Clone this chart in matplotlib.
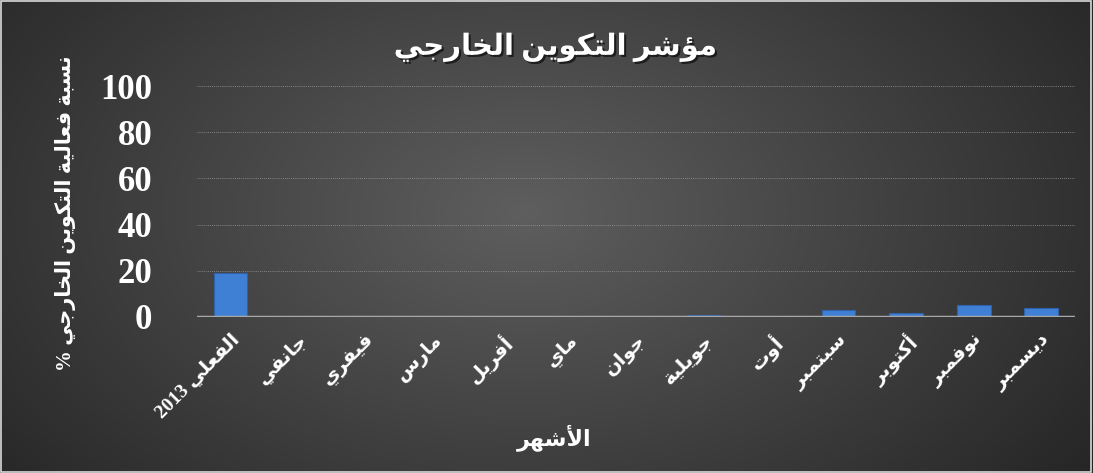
import numpy as np
import matplotlib
matplotlib.use("Agg")
import matplotlib.pyplot as plt
from matplotlib.patches import Rectangle
import matplotlib.patheffects as pe

categories = ["الفعلي 2013", "جانفي", "فيفري", "مارس", "أفريل", "ماي", "جوان",
              "جويلية", "أوت", "سبتمبر", "أكتوبر", "نوفمبر", "ديسمبر"]
values = [19, 0.6, 0, 0.6, 0.6, 0.6, 0.6, 0.9, 0.5, 3.0, 1.5, 5.3, 3.8]
yticks = [0, 20, 40, 60, 80, 100]
title = "مؤشر التكوين الخارجي"
ylabel = "نسبة فعالية التكوين الخارجي %"
xlabel = "الأشهر"

# matplotlib does no Arabic shaping, so map letters to presentation forms by hand
AR_FORMS = {
    'ء': (0xFE80, 1), 'آ': (0xFE81, 2), 'أ': (0xFE83, 2), 'ؤ': (0xFE85, 2),
    'إ': (0xFE87, 2), 'ئ': (0xFE89, 4), 'ا': (0xFE8D, 2), 'ب': (0xFE8F, 4),
    'ة': (0xFE93, 2), 'ت': (0xFE95, 4), 'ث': (0xFE99, 4), 'ج': (0xFE9D, 4),
    'ح': (0xFEA1, 4), 'خ': (0xFEA5, 4), 'د': (0xFEA9, 2), 'ذ': (0xFEAB, 2),
    'ر': (0xFEAD, 2), 'ز': (0xFEAF, 2), 'س': (0xFEB1, 4), 'ش': (0xFEB5, 4),
    'ص': (0xFEB9, 4), 'ض': (0xFEBD, 4), 'ط': (0xFEC1, 4), 'ظ': (0xFEC5, 4),
    'ع': (0xFEC9, 4), 'غ': (0xFECD, 4), 'ف': (0xFED1, 4), 'ق': (0xFED5, 4),
    'ك': (0xFED9, 4), 'ل': (0xFEDD, 4), 'م': (0xFEE1, 4), 'ن': (0xFEE5, 4),
    'ه': (0xFEE9, 4), 'و': (0xFEED, 2), 'ى': (0xFEEF, 2), 'ي': (0xFEF1, 4),
}
LAM_ALEF = {'آ': (0xFEF5, 2), 'أ': (0xFEF7, 2), 'إ': (0xFEF9, 2), 'ا': (0xFEFB, 2)}


def shape_word(word):
    units = []
    i = 0
    while i < len(word):
        if word[i] == 'ل' and i + 1 < len(word) and word[i + 1] in LAM_ALEF:
            units.append(LAM_ALEF[word[i + 1]])
            i += 2
        else:
            units.append(AR_FORMS.get(word[i], word[i]))
            i += 1
    out = []
    for k, u in enumerate(units):
        if not isinstance(u, tuple):
            out.append(u)
            continue
        base, n = u
        prev = units[k - 1] if k > 0 else None
        nxt = units[k + 1] if k + 1 < len(units) else None
        jp = isinstance(prev, tuple) and prev[1] == 4
        jn = n == 4 and isinstance(nxt, tuple)
        if n == 1:
            f = 0
        elif jp and jn:
            f = 3
        elif jn:
            f = 2
        elif jp:
            f = 1
        else:
            f = 0
        out.append(chr(base + f))
    return ''.join(reversed(out))


def ar(text):
    tokens = text.split(' ')
    return ' '.join(shape_word(t) if any(c in AR_FORMS for c in t) else t
                    for t in reversed(tokens))


FONT = ['Liberation Serif', 'DejaVu Sans']

fig = plt.figure(figsize=(10.93, 4.73), dpi=100)

# dark radial background
bg = fig.add_axes([0, 0, 1, 1], zorder=-10)
gx, gy = np.meshgrid(np.linspace(0, 1, 400), np.linspace(0, 1, 200))
d = np.sqrt(((gx - 0.48) / 0.75) ** 2 + ((gy - 0.45) / 1.1) ** 2)
shade = np.clip(0.37 - 0.26 * d, 0.13, 0.4)
bg.imshow(np.dstack([shade, shade, shade]), aspect='auto', extent=[0, 1, 0, 1])
bg.axis('off')
fig.patches.append(Rectangle((0.001, 0.002), 0.997, 0.995, transform=fig.transFigure,
                             fill=False, edgecolor='#d9d9d9', linewidth=1.2))

ax = fig.add_axes([0.180, 0.330, 0.8035, 0.488])
ax.patch.set_alpha(0)
x = np.arange(len(categories))
ax.bar(x, values, width=0.5, color='#3f7fd4', edgecolor='#2f62a8', linewidth=0.8, zorder=3)
ax.set_xlim(-0.5, len(categories) - 0.5)
ax.set_ylim(0, 100)
ax.set_yticks(yticks)
ax.yaxis.grid(True, linestyle=(0, (1, 1.5)), color='#9a9a9a', linewidth=0.6, zorder=0)
ax.axhline(0, color='#a8a8a8', linewidth=2.5, zorder=4)
for s in ax.spines.values():
    s.set_visible(False)
ax.tick_params(length=0)
ax.set_yticklabels([str(v) for v in yticks], color='white', fontsize=25,
                   fontweight='bold', family=FONT)
ax.tick_params(axis='y', pad=32)
ax.set_xticks(x)
ax.set_xticklabels([ar(c) for c in categories], rotation=45, ha='right', va='top',
                   rotation_mode='anchor', color='white', fontsize=14,
                   fontweight='bold', family=FONT)
ax.tick_params(axis='x', pad=10)

shadow = [pe.withSimplePatchShadow(offset=(1.5, -1.5), shadow_rgbFace='black', alpha=0.6)]
fig.text(0.508, 0.90, ar(title), ha='center', va='center', color='white',
         fontsize=21, fontweight='bold', family=FONT, path_effects=shadow)
fig.text(0.060, 0.55, ar(ylabel), ha='center', va='center', rotation=90, color='white',
         fontsize=15, fontweight='bold', family=FONT)
fig.text(0.507, 0.075, ar(xlabel), ha='center', va='center', color='white',
         fontsize=16, fontweight='bold', family=FONT)

fig.savefig("out.png", dpi=100)
